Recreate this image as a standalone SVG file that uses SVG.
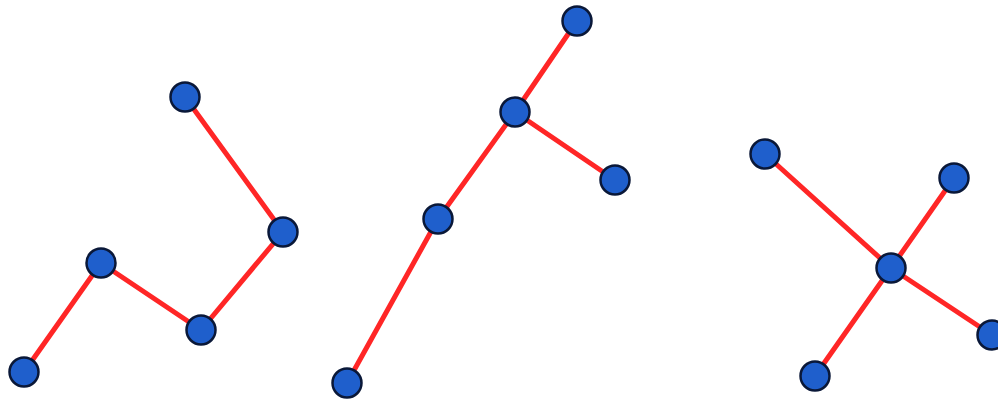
<svg xmlns="http://www.w3.org/2000/svg" width="998" height="399" viewBox="0 0 998 399">
<style>
.e{stroke:#ff2626;stroke-width:5;stroke-linecap:round;fill:none}
.n{fill:#1f5fcc;stroke:#0a1838;stroke-width:2.5}
</style>
<rect width="998" height="399" fill="#fff"/>
<g id="edges">
<line class="e" x1="24" y1="372" x2="101" y2="263"/>
<line class="e" x1="101" y1="263" x2="201" y2="330"/>
<line class="e" x1="201" y1="330" x2="283" y2="232"/>
<line class="e" x1="283" y1="232" x2="185" y2="97"/>
<line class="e" x1="347" y1="383" x2="438" y2="219"/>
<line class="e" x1="438" y1="219" x2="515" y2="112"/>
<line class="e" x1="515" y1="112" x2="577" y2="21"/>
<line class="e" x1="515" y1="112" x2="615" y2="180"/>
<line class="e" x1="765" y1="154" x2="891" y2="268"/>
<line class="e" x1="891" y1="268" x2="954" y2="178"/>
<line class="e" x1="891" y1="268" x2="992" y2="335"/>
<line class="e" x1="891" y1="268" x2="815" y2="376"/>
</g>
<g id="n1"><circle class="n" cx="24" cy="372" r="14.5"/></g>
<g id="n2"><circle class="n" cx="101" cy="263" r="14.5"/></g>
<g id="n3"><circle class="n" cx="201" cy="330" r="14.5"/></g>
<g id="n4"><circle class="n" cx="283" cy="232" r="14.5"/></g>
<g id="n5"><circle class="n" cx="185" cy="97" r="14.5"/></g>
<g id="n6"><circle class="n" cx="347" cy="383" r="14.5"/></g>
<g id="n7"><circle class="n" cx="438" cy="219" r="14.5"/></g>
<g id="n8"><circle class="n" cx="515" cy="112" r="14.5"/></g>
<g id="n9"><circle class="n" cx="577" cy="21" r="14.5"/></g>
<g id="n10"><circle class="n" cx="615" cy="180" r="14.5"/></g>
<g id="n11"><circle class="n" cx="765" cy="154" r="14.5"/></g>
<g id="n12"><circle class="n" cx="891" cy="268" r="14.5"/></g>
<g id="n13"><circle class="n" cx="954" cy="178" r="14.5"/></g>
<g id="n14"><circle class="n" cx="992" cy="335" r="14.5"/></g>
<g id="n15"><circle class="n" cx="815" cy="376" r="14.5"/></g>
</svg>
